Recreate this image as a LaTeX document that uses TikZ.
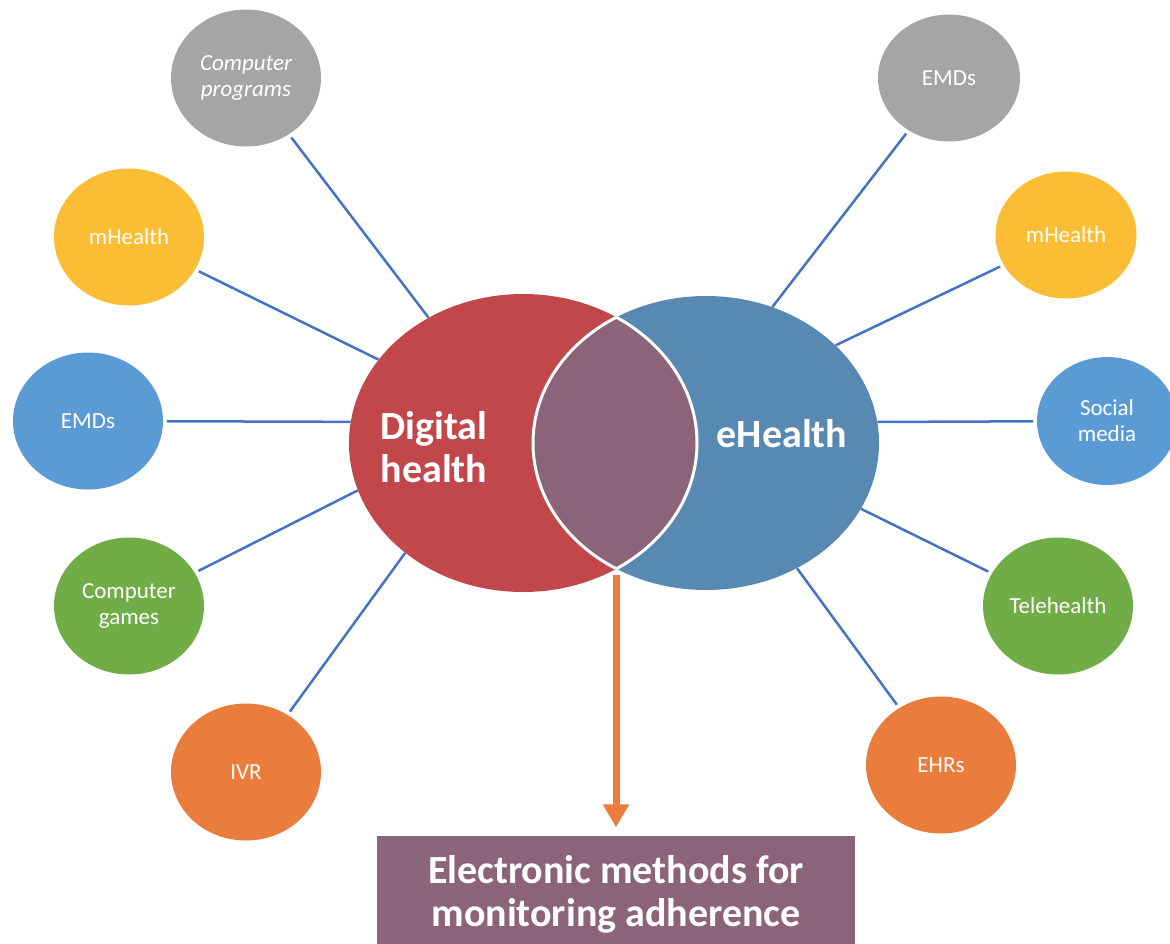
\documentclass[tikz,border=0pt]{standalone}
\usepackage{fontspec}
\setmainfont{Carlito}
\usetikzlibrary{shapes.geometric,arrows.meta}
\definecolor{dhred}{HTML}{C2474A}
\definecolor{ehblue}{HTML}{5889B3}
\definecolor{overlap}{HTML}{8C6479}
\definecolor{linkblue}{HTML}{4472C4}
\definecolor{topgray}{HTML}{A5A5A5}
\definecolor{gold}{HTML}{FBBD33}
\definecolor{skyblue}{HTML}{5B9BD5}
\definecolor{leafgreen}{HTML}{70AD47}
\definecolor{tangerine}{HTML}{EB7D3C}
\begin{document}
\begin{tikzpicture}[x=1pt,y=-1pt,>={Triangle[width=25pt,length=23pt]}]
\tikzset{
  bubble/.style={ellipse,inner sep=0,minimum width=150pt,minimum height=137pt,text=white,align=center,font=\fontsize{23}{26}\selectfont},
  bigset/.style={ellipse,inner sep=0},
  bigtext/.style={text=white,align=center,font=\bfseries\fontsize{40}{43}\selectfont},
  link/.style={draw=linkblue,line width=2.5pt,shorten <=4pt}
}
\useasboundingbox (0,0) rectangle (1170,943);
\node[bigset,fill=dhred,minimum width=348pt,minimum height=298pt] (digital) at (523,443) {};
\node[bigset,fill=ehblue,minimum width=346pt,minimum height=294pt] (ehealth) at (706,443) {};
\begin{scope}
  \clip (digital.center) ellipse [x radius=174,y radius=149];
  \fill[overlap] (ehealth.center) ellipse [x radius=173,y radius=147];
  \draw[white,line width=3pt] (ehealth.center) ellipse [x radius=173,y radius=147];
\end{scope}
\begin{scope}
  \clip (ehealth.center) ellipse [x radius=173,y radius=147];
  \draw[white,line width=3pt] (digital.center) ellipse [x radius=174,y radius=149];
\end{scope}
\node[bigtext] (dhlabel) at (434,447) {Digital\\health};
\node[bigtext] (ehlabel) at (782,434) {eHealth};
\node[bubble,fill=topgray,font=\itshape\fontsize{23}{26}\selectfont] (programs) at (246,78) {Computer\\programs};
\node[bubble,fill=gold] (mhealthl) at (129,237) {mHealth};
\node[bubble,fill=skyblue] (emdsl) at (88,421) {EMDs};
\node[bubble,fill=leafgreen] (games) at (129,606) {Computer\\games};
\node[bubble,fill=tangerine] (ivr) at (246,772) {IVR};
\node[bubble,fill=topgray,minimum width=142pt,minimum height=127pt] (emdsr) at (949,78) {EMDs};
\node[bubble,fill=gold,minimum width=141pt,minimum height=127pt] (mhealthr) at (1066,235) {mHealth};
\node[bubble,fill=skyblue,minimum width=140pt,minimum height=128pt] (social) at (1107,421) {Social\\media};
\node[bubble,fill=leafgreen] (tele) at (1058,606) {Telehealth};
\node[bubble,fill=tangerine] (ehrs) at (941,765) {EHRs};
\draw[link] (programs) -- (digital.127);
\draw[link] (mhealthl) -- (digital.150);
\draw[link] (emdsl) -- (digital.173);
\draw[link] (games) -- (digital.196);
\draw[link] (ivr) -- (digital.223);
\draw[link] (emdsr) -- (ehealth.64);
\draw[link] (mhealthr) -- (ehealth.37);
\draw[link] (social) -- (ehealth.7);
\draw[link] (tele) -- (ehealth.337);
\draw[link] (ehrs) -- (ehealth.306);
\node[fill=overlap,minimum width=478pt,minimum height=117pt,inner sep=0,text=white,align=center,font=\bfseries\fontsize{40}{43}\selectfont] (methods) at (616,894) {Electronic methods for\\monitoring adherence};
\coordinate (lenstip) at (616,575);
\draw[->,draw=tangerine,line width=7pt,shorten >=8pt] (lenstip) -- (methods.north);
\end{tikzpicture}
\end{document}
